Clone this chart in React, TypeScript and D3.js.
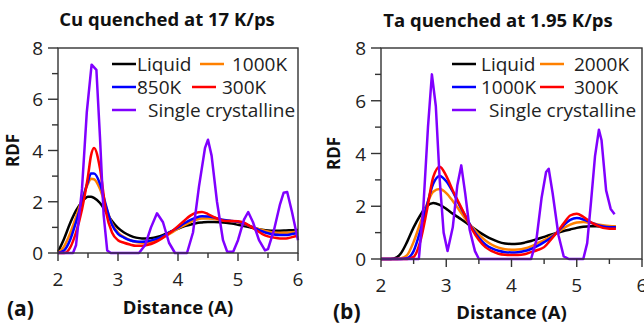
import React, { useEffect, useRef } from 'react'
import { select, scaleLinear, line, curveMonotoneX, curveLinear } from 'd3'

// ---- Cu panel (a) ----
const cuDist = [2.0, 2.1, 2.2, 2.3, 2.4, 2.5, 2.55, 2.6, 2.7, 2.8, 2.9, 3.0, 3.1, 3.2, 3.3, 3.4, 3.5, 3.6, 3.7, 3.8, 3.9, 4.0,
  4.1, 4.2, 4.3, 4.4, 4.5, 4.6, 4.7, 4.8, 4.9, 5.0, 5.1, 5.2, 5.3, 5.4, 5.5, 5.6, 5.7, 5.8, 5.9, 6.0]
const cuLiquid = [0.05, 0.55, 1.15, 1.65, 2.0, 2.2, 2.2, 2.15, 1.95, 1.6, 1.25, 0.98, 0.8, 0.68, 0.6, 0.57, 0.57, 0.6, 0.66, 0.75, 0.85, 0.95,
  1.04, 1.1, 1.16, 1.19, 1.21, 1.21, 1.2, 1.18, 1.15, 1.1, 1.05, 1.0, 0.95, 0.91, 0.88, 0.87, 0.87, 0.88, 0.89, 0.9]
const cu1000 = [0, 0.25, 0.75, 1.4, 2.1, 2.7, 2.9, 2.88, 2.5, 1.8, 1.15, 0.8, 0.62, 0.5, 0.43, 0.4, 0.41, 0.47, 0.55, 0.67, 0.8, 0.95,
  1.08, 1.2, 1.3, 1.35, 1.35, 1.33, 1.3, 1.27, 1.24, 1.2, 1.13, 1.05, 0.97, 0.9, 0.84, 0.8, 0.79, 0.79, 0.81, 0.83]
const cu850 = [0, 0.1, 0.5, 1.2, 2.0, 2.8, 3.1, 3.1, 2.7, 1.85, 1.1, 0.75, 0.6, 0.5, 0.45, 0.44, 0.46, 0.52, 0.6, 0.72, 0.86, 1.0,
  1.15, 1.28, 1.38, 1.43, 1.42, 1.38, 1.32, 1.28, 1.25, 1.22, 1.15, 1.05, 0.95, 0.85, 0.77, 0.72, 0.7, 0.7, 0.74, 0.78]
const cu300 = [0, 0, 0.2, 0.8, 1.7, 3.0, 3.8, 4.1, 3.3, 1.6, 0.8, 0.5, 0.4, 0.33, 0.28, 0.28, 0.32, 0.4, 0.52, 0.68, 0.85, 1.05,
  1.25, 1.45, 1.57, 1.6, 1.52, 1.4, 1.3, 1.25, 1.25, 1.24, 1.18, 1.05, 0.9, 0.75, 0.65, 0.6, 0.57, 0.57, 0.62, 0.68]
const cuCrystalDist = [2.0, 2.25, 2.3, 2.4, 2.48, 2.56, 2.64, 2.7, 2.76, 2.82, 2.88, 3.35, 3.45, 3.55, 3.65, 3.75, 3.85, 3.95,
  4.15, 4.25, 4.35, 4.45, 4.5, 4.56, 4.65, 4.75, 4.82, 4.92, 5.0, 5.1, 5.17, 5.25, 5.35, 5.45, 5.5, 5.6, 5.7, 5.76, 5.82, 5.9, 6.0]
const cuCrystal = [0, 0, 0.3, 2.5, 5.5, 7.35, 7.15, 4.5, 1.5, 0.1, 0, 0, 0.3, 1.0, 1.55, 1.2, 0.4, 0,
  0, 0.8, 2.6, 4.1, 4.42, 3.8, 2.0, 0.5, 0.05, 0.05, 0.5, 1.3, 1.6, 1.2, 0.5, 0.1, 0.15, 0.9, 1.9, 2.35, 2.38, 1.6, 0.5]

// ---- Ta panel (b) ----
const taDist = [2.0, 2.1, 2.2, 2.3, 2.4, 2.5, 2.6, 2.7, 2.8, 2.9, 3.0, 3.1, 3.2, 3.3, 3.4, 3.5, 3.6, 3.7, 3.8, 3.9, 4.0,
  4.1, 4.2, 4.3, 4.4, 4.5, 4.6, 4.7, 4.8, 4.9, 5.0, 5.1, 5.2, 5.3, 5.4, 5.5, 5.6]
const taLiquid = [0, 0, 0.02, 0.2, 0.65, 1.2, 1.65, 2.0, 2.12, 2.05, 1.9, 1.72, 1.55, 1.38, 1.2, 1.03, 0.88, 0.75, 0.65, 0.59, 0.57,
  0.58, 0.62, 0.68, 0.76, 0.84, 0.92, 0.99, 1.06, 1.12, 1.18, 1.22, 1.24, 1.24, 1.23, 1.22, 1.21]
const ta2000 = [0, 0, 0, 0.02, 0.15, 0.65, 1.35, 2.05, 2.55, 2.65, 2.5, 2.2, 1.85, 1.5, 1.2, 0.92, 0.7, 0.54, 0.43, 0.37, 0.35,
  0.36, 0.4, 0.48, 0.6, 0.72, 0.85, 1.0, 1.17, 1.3, 1.38, 1.4, 1.37, 1.32, 1.28, 1.25, 1.24]
const ta1000 = [0, 0, 0, 0, 0.03, 0.3, 1.05, 2.0, 2.85, 3.15, 2.95, 2.55, 2.05, 1.6, 1.15, 0.8, 0.55, 0.4, 0.31, 0.26, 0.25,
  0.26, 0.3, 0.38, 0.5, 0.64, 0.8, 1.02, 1.28, 1.48, 1.55, 1.5, 1.4, 1.3, 1.23, 1.2, 1.2]
const ta300 = [0, 0, 0, 0, 0, 0.08, 0.65, 1.8, 3.1, 3.5, 3.15, 2.6, 2.1, 1.6, 1.1, 0.72, 0.45, 0.3, 0.2, 0.16, 0.15,
  0.15, 0.18, 0.26, 0.34, 0.45, 0.72, 1.02, 1.35, 1.65, 1.72, 1.6, 1.42, 1.28, 1.18, 1.15, 1.15]
const taCrystalDist = [2.0, 2.58, 2.65, 2.72, 2.78, 2.84, 2.9, 2.96, 3.02, 3.1, 3.17, 3.23, 3.29, 3.36, 3.44, 3.5, 4.3, 4.38, 4.46,
  4.53, 4.57, 4.63, 4.72, 4.8, 4.88, 5.1, 5.16, 5.22, 5.28, 5.34, 5.38, 5.45, 5.52, 5.58]
const taCrystal = [0, 0, 2.0, 5.0, 7.0, 5.8, 3.0, 1.0, 0.3, 1.2, 2.8, 3.55, 2.5, 1.1, 0.3, 0, 0, 0.7, 2.3,
  3.3, 3.42, 2.5, 0.9, 0.1, 0, 0, 0.6, 2.2, 3.9, 4.9, 4.5, 2.6, 1.9, 1.7]

const yTicks = [0, 2, 4, 6, 8]
const yMinorTicks = [1, 3, 5, 7]
const xTicks = [2, 3, 4, 5, 6]
const xMinorTicks = [2.5, 3.5, 4.5, 5.5]

const colors = {
  liquid: '#000000',
  orange: '#ff8000',
  blue: '#0000ff',
  red: '#ff0000',
  crystal: '#8000ff'
}

const FONT = '"Open Sans", sans-serif'

function zip(xs: number[], ys: number[]) {
  return xs.map((x, i) => [x, ys[i]] as [number, number])
}

export default function App() {
  const container = useRef<SVGSVGElement | null>(null)

  useEffect(() => {
    let svg = select(container.current)
    svg.selectAll('*').remove()

    let panels = [
      {
        title: 'Cu quenched at 17 K/ps', tag: '(a)',
        left: 58, right: 298, top: 48, bottom: 253,
        titleX: 167, titleY: 26, tagX: 7, tagY: 316, rdfX: 13, xlabelY: 314,
        series: [
          { name: 'Liquid', color: colors.liquid, pts: zip(cuDist, cuLiquid), smooth: true },
          { name: '1000K', color: colors.orange, pts: zip(cuDist, cu1000), smooth: true },
          { name: '850K', color: colors.blue, pts: zip(cuDist, cu850), smooth: true },
          { name: '300K', color: colors.red, pts: zip(cuDist, cu300), smooth: true },
          { name: 'Single crystalline', color: colors.crystal, pts: zip(cuCrystalDist, cuCrystal), smooth: false }
        ],
        legend: [
          { i: 0, x: 112, y: 64, tx: 137 }, { i: 1, x: 200, y: 64, tx: 232 },
          { i: 2, x: 112, y: 87, tx: 137 }, { i: 3, x: 192, y: 87, tx: 222 },
          { i: 4, x: 112, y: 110, tx: 148 }
        ]
      },
      {
        title: 'Ta quenched at 1.95 K/ps', tag: '(b)',
        left: 381, right: 642, top: 48, bottom: 259,
        titleX: 498, titleY: 27, tagX: 333, tagY: 319, rdfX: 334, xlabelY: 319,
        series: [
          { name: 'Liquid', color: colors.liquid, pts: zip(taDist, taLiquid), smooth: true },
          { name: '2000K', color: colors.orange, pts: zip(taDist, ta2000), smooth: true },
          { name: '1000K', color: colors.blue, pts: zip(taDist, ta1000), smooth: true },
          { name: '300K', color: colors.red, pts: zip(taDist, ta300), smooth: true },
          { name: 'Single crystalline', color: colors.crystal, pts: zip(taCrystalDist, taCrystal), smooth: false }
        ],
        legend: [
          { i: 0, x: 452, y: 64, tx: 481 }, { i: 1, x: 540, y: 64, tx: 574 },
          { i: 2, x: 452, y: 87, tx: 481 }, { i: 3, x: 540, y: 87, tx: 574 },
          { i: 4, x: 452, y: 110, tx: 489 }
        ]
      }
    ]

    panels.forEach((p) => {
      let x = scaleLinear().domain([2, 6]).range([p.left, p.right])
      let y = scaleLinear().domain([0, 8]).range([p.bottom, p.top])
      let g = svg.append('g')

      // curves
      p.series.forEach((s) => {
        let gen = line<[number, number]>()
          .x(d => x(d[0]))
          .y(d => y(d[1]))
          .curve(s.smooth ? curveMonotoneX : curveLinear)
        g.append('path')
          .attr('d', gen(s.pts))
          .attr('fill', 'none')
          .attr('stroke', s.color)
          .attr('stroke-width', 2.5)
          .attr('stroke-linejoin', 'round')
      })

      // frame
      g.append('rect')
        .attr('x', p.left).attr('y', p.top)
        .attr('width', p.right - p.left).attr('height', p.bottom - p.top)
        .attr('fill', 'none').attr('stroke', '#333').attr('stroke-width', 1.4)

      // y ticks
      g.selectAll('.ymaj').data(yTicks).join('line')
        .attr('x1', p.left - 10).attr('x2', p.left)
        .attr('y1', d => y(d)).attr('y2', d => y(d))
        .attr('stroke', '#333').attr('stroke-width', 1.4)
      g.selectAll('.ymin').data(yMinorTicks).join('line')
        .attr('x1', p.left - 6).attr('x2', p.left)
        .attr('y1', d => y(d)).attr('y2', d => y(d))
        .attr('stroke', '#333').attr('stroke-width', 1.4)
      g.selectAll('.ylab').data(yTicks).join('text')
        .text(d => d)
        .attr('x', p.left - 15).attr('y', d => y(d) + 7)
        .attr('text-anchor', 'end')
        .attr('font-size', 19).attr('fill', '#222')
        .style('font-family', FONT)

      // x ticks
      g.selectAll('.xmaj').data(xTicks).join('line')
        .attr('x1', d => x(d)).attr('x2', d => x(d))
        .attr('y1', p.bottom).attr('y2', p.bottom + 8)
        .attr('stroke', '#333').attr('stroke-width', 1.4)
      g.selectAll('.xmin').data(xMinorTicks).join('line')
        .attr('x1', d => x(d)).attr('x2', d => x(d))
        .attr('y1', p.bottom).attr('y2', p.bottom + 5)
        .attr('stroke', '#333').attr('stroke-width', 1.4)
      g.selectAll('.xlab').data(xTicks).join('text')
        .text(d => d)
        .attr('x', d => x(d)).attr('y', p.bottom + 33)
        .attr('text-anchor', 'middle')
        .attr('font-size', 19).attr('fill', '#222')
        .style('font-family', FONT)

      // labels
      g.append('text').text(p.title)
        .attr('x', p.titleX).attr('y', p.titleY)
        .attr('text-anchor', 'middle').attr('font-size', 18.5).attr('font-weight', 'bold')
        .attr('fill', '#111').style('font-family', FONT)
      g.append('text').text('Distance (A)')
        .attr('x', (p.left + p.right) / 2).attr('y', p.xlabelY)
        .attr('text-anchor', 'middle').attr('font-size', 18.5).attr('font-weight', 'bold')
        .attr('fill', '#111').style('font-family', FONT)
      g.append('text').text(p.tag)
        .attr('x', p.tagX).attr('y', p.tagY)
        .attr('font-size', 21).attr('font-weight', 'bold')
        .attr('fill', '#111').style('font-family', FONT)
      g.append('text').text('RDF')
        .attr('transform', `translate(${p.rdfX + 6}, ${(p.top + p.bottom) / 2}) rotate(-90)`)
        .attr('text-anchor', 'middle').attr('font-size', 17).attr('font-weight', 'bold')
        .attr('fill', '#111').style('font-family', FONT)

      // legend
      p.legend.forEach((l) => {
        let s = p.series[l.i]
        g.append('line')
          .attr('x1', l.x).attr('x2', l.x + 24)
          .attr('y1', l.y).attr('y2', l.y)
          .attr('stroke', s.color).attr('stroke-width', 2.5)
        g.append('text').text(s.name)
          .attr('x', l.tx).attr('y', l.y + 7)
          .attr('font-size', 19).attr('fill', '#222')
          .style('font-family', FONT)
      })
    })
  }, [])

  return (
    <svg ref={container} width={644} height={323}
      style={{ position: 'absolute', left: 0, top: 0, background: '#fff' }} />
  )
}
